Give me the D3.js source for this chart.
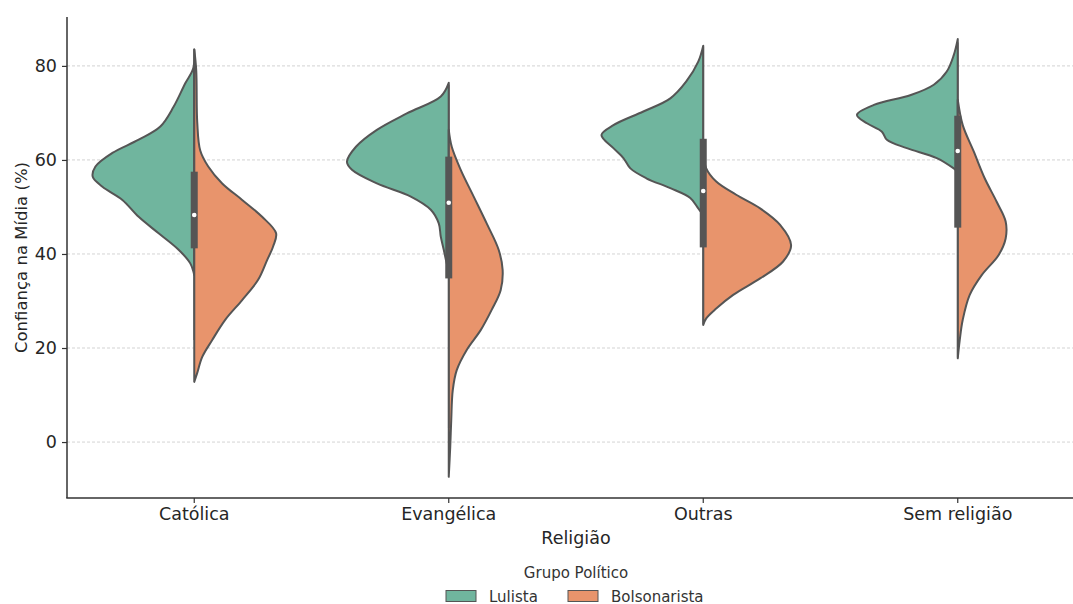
<!DOCTYPE html>
<html>
<head>
<meta charset="utf-8">
<script src="https://cdn.jsdelivr.net/npm/d3@7"></script>
<style>
  body { margin: 0; background: #fff; }
  svg { display: block; font-family: "DejaVu Sans", sans-serif; }
</style>
</head>
<body>
<script>
// categorias e grupos
const religioes = ["Católica", "Evangélica", "Outras", "Sem religião"];
const grupos = ["Lulista", "Bolsonarista"];
const yTicks = [0, 20, 40, 60, 80];

// perfis de densidade: [confiança (%), largura relativa]
const catolicaLulista = [[83.5,0],[79.5,1],[76.3,9],[71.3,20.7],[67.1,34],[64.3,55.7],[61.5,82],[58.6,99],[56.4,101.7],[54.3,92],[51.5,72],[47.9,55.7],[44.4,35.7],[40.9,15.7],[38,4],[35.5,0]];
const catolicaBolsonarista = [[83.5,0],[79,2],[68,3],[62,6],[58.6,14],[55,28],[51.5,48],[47.9,68],[44.4,82],[41.6,79],[38.7,73],[34.5,64],[30.2,48],[26,31],[21.7,18],[18.1,8],[14.7,3],[12.8,0]];
const evangelicaLulista = [[76.4,0],[73.5,8],[69.9,42],[66.4,72],[62.8,93],[59.6,102],[57.9,97],[55,72],[52.2,38],[49.4,18],[46.5,10],[43.7,8],[40.9,5],[38,2],[36.6,0]];
const evangelicaBolsonarista = [[66.4,0],[62.8,3],[57.9,12],[52.2,25],[46.5,38],[40.9,50],[36.6,54],[32.3,52],[28.1,43],[23.8,32],[19.6,18],[15.3,8],[11,4],[4.7,2.5],[-1,1.5],[-7.4,0]];
const outrasLulista = [[84.3,0],[80.9,5],[76.7,17],[73.1,33],[70.3,60],[67.4,90],[65.3,102],[62.5,90],[60.4,80],[58.2,73],[56.1,57],[54,33],[51.9,13],[49.7,5],[48.3,0]];
const outrasBolsonarista = [[62.1,0],[58.2,3],[55.4,13],[52.6,33],[49.7,57],[46.2,77],[41.9,88],[38.4,80],[34.8,57],[31.3,30],[28.4,13],[26.3,3],[24.9,0]];
const semLulista = [[85.7,0],[82.3,4],[78.8,11],[76,24],[73.8,47],[71.7,84],[69.6,101],[67.8,91],[66,76],[64.3,71],[62.5,51],[60.4,21],[58.2,4],[57.5,0]];
const semBolsonarista = [[72.8,0],[67.4,5],[61.8,16],[56.1,27],[51.1,39],[46.9,48],[43.3,48],[39.8,41],[35.5,24],[31.3,12],[26,5],[21.7,2],[17.8,0]];

// caixa interna (dados combinados)
const q1 = [41.2, 34.8, 41.4, 45.6];
const medianas = [48.3, 50.9, 53.4, 61.9];
const q3 = [57.5, 60.7, 64.5, 69.4];
const bigodeMin = [21.7, 3, 25, 18];
const bigodeMax = [79.5, 76, 84, 85];

const perfis = [
  [catolicaLulista, catolicaBolsonarista],
  [evangelicaLulista, evangelicaBolsonarista],
  [outrasLulista, outrasBolsonarista],
  [semLulista, semBolsonarista]
];

const width = 1073, height = 604;
const margin = { left: 67, top: 17, bottom: 498, right: 1085 };
const cores = { Lulista: "#70b59e", Bolsonarista: "#e8946c" };
const contorno = "#555555";
const texto = "#262626";

const svg = d3.select("body").append("svg")
    .attr("width", width)
    .attr("height", height);

const x = d3.scaleBand().domain(religioes).range([margin.left, margin.right]);
const y = d3.scaleLinear().domain([-11.9, 90.4]).range([margin.bottom, margin.top]);
const w = d3.scaleLinear().domain([0, 102]).range([0, x.bandwidth() * 0.4]);

// grade
svg.append("g")
    .selectAll("line")
    .data(yTicks)
    .join("line")
    .attr("x1", margin.left)
    .attr("x2", width)
    .attr("y1", d => y(d))
    .attr("y2", d => y(d))
    .attr("stroke", "#c8c8c8")
    .attr("stroke-width", 0.8)
    .attr("stroke-dasharray", "3,2");

// violinos
const violinos = svg.append("g");
religioes.forEach((r, i) => {
    const cx = x(r) + x.bandwidth() / 2;
    grupos.forEach((g, j) => {
        const lado = j === 0 ? -1 : 1;
        const area = d3.area()
            .curve(d3.curveCatmullRom)
            .y(d => y(d[0]))
            .x0(cx)
            .x1(d => cx + lado * w(d[1]));
        violinos.append("path")
            .datum(perfis[i][j])
            .attr("d", area)
            .attr("fill", cores[g])
            .attr("stroke", contorno)
            .attr("stroke-width", 2)
            .attr("stroke-linejoin", "round");
    });

    // bigodes e caixa
    violinos.append("line")
        .attr("x1", cx).attr("x2", cx)
        .attr("y1", y(bigodeMin[i])).attr("y2", y(bigodeMax[i]))
        .attr("stroke", contorno)
        .attr("stroke-width", 1.6);
    violinos.append("rect")
        .attr("x", cx - 3.5)
        .attr("width", 7)
        .attr("y", y(q3[i]))
        .attr("height", y(q1[i]) - y(q3[i]))
        .attr("fill", contorno);
    violinos.append("circle")
        .attr("cx", cx)
        .attr("cy", y(medianas[i]))
        .attr("r", 2.3)
        .attr("fill", "#fff");
});

// eixos
const eixoY = svg.append("g")
    .attr("transform", `translate(${margin.left},0)`)
    .call(d3.axisLeft(y).tickValues(yTicks).tickSize(5).tickPadding(5));
eixoY.select(".domain").remove();
eixoY.append("line")
    .attr("y1", margin.top).attr("y2", margin.bottom)
    .attr("stroke", "#333").attr("stroke-width", 1.5);

const eixoX = svg.append("g")
    .attr("transform", `translate(0,${margin.bottom})`)
    .call(d3.axisBottom(x).tickSize(5).tickPadding(5));
eixoX.select(".domain").remove();
eixoX.append("line")
    .attr("x1", margin.left - 0.75).attr("x2", margin.right)
    .attr("stroke", "#333").attr("stroke-width", 1.5);

svg.selectAll(".tick line").attr("stroke", "#333").attr("stroke-width", 1.2);
svg.selectAll(".tick text")
    .attr("fill", texto)
    .style("font-size", "17.5px")
    .style("font-family", "DejaVu Sans, sans-serif");

// rótulos
svg.append("text")
    .attr("x", (margin.left + margin.right) / 2)
    .attr("y", 544)
    .attr("text-anchor", "middle")
    .attr("fill", texto)
    .style("font-size", "17.5px")
    .text("Religião");

svg.append("text")
    .attr("transform", `translate(27,${(margin.top + margin.bottom) / 2}) rotate(-90)`)
    .attr("text-anchor", "middle")
    .attr("fill", texto)
    .style("font-size", "16.5px")
    .text("Confiança na Mídia (%)");

// legenda
const legenda = svg.append("g");
legenda.append("text")
    .attr("x", (margin.left + margin.right) / 2)
    .attr("y", 578)
    .attr("text-anchor", "middle")
    .attr("fill", "#333")
    .style("font-size", "15px")
    .text("Grupo Político");

const posLegenda = [446, 568];
grupos.forEach((g, j) => {
    legenda.append("rect")
        .attr("x", posLegenda[j])
        .attr("y", 590.5)
        .attr("width", 30)
        .attr("height", 11)
        .attr("fill", cores[g])
        .attr("stroke", contorno)
        .attr("stroke-width", 1);
    legenda.append("text")
        .attr("x", posLegenda[j] + 43)
        .attr("y", 601.5)
        .attr("fill", "#333")
        .style("font-size", "15px")
        .text(g);
});
</script>
</body>
</html>
